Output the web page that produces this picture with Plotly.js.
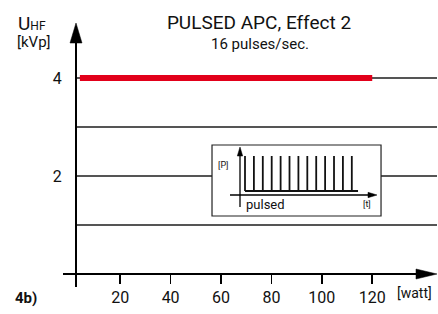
<!DOCTYPE html>
<html><head><meta charset="utf-8">
<script src="https://cdn.plot.ly/plotly-3.0.1.min.js"></script>
<style>html,body{margin:0;padding:0;background:#fff}#chart{width:438px;height:314px}</style>
</head><body><div id="chart"></div>
<script>
// ---- data ----
const xTickVals = [20, 40, 60, 80, 100, 120];
const xTickText = ['20', '40', '60', '80', '100', '120'];
const yGridVals = [1, 2, 3, 4];
const yTickText = ['', '2', '', '4'];
const powerWatt = [4, 120];
const voltageKVp = [4, 4];
const pulseTimes = [1, 2, 3, 4, 5, 6, 7, 8, 9, 10, 11, 12, 13];
const pulseHeight = 1;
const baselineEnd = 13.7;

// ---- layout geometry helpers (pixels -> paper) ----
const W = 438, H = 314;
const M = {l: 76, r: 1, t: 40, b: 40};
const PW = W - M.l - M.r, PH = H - M.t - M.b;
const px = v => (v - M.l) / PW;
const py = v => (H - M.b - v) / PH;
const FONT = 'Roboto, "Liberation Sans", Arial, sans-serif';

// pulse trace built from data
const pX = [], pY = [];
pulseTimes.forEach(t => { pX.push(t, t, null); pY.push(0, pulseHeight, null); });

const traces = [
  {x: powerWatt, y: voltageKVp, type: 'scatter', mode: 'lines',
   line: {color: '#e2001a', width: 6}, hoverinfo: 'skip', xaxis: 'x', yaxis: 'y'},
  {x: pX, y: pY, type: 'scatter', mode: 'lines', line: {color: '#111', width: 1.8},
   xaxis: 'x2', yaxis: 'y2', hoverinfo: 'skip'},
  {x: [pulseTimes[0], baselineEnd], y: [0, 0], type: 'scatter', mode: 'lines',
   line: {color: '#111', width: 1.8}, xaxis: 'x2', yaxis: 'y2', hoverinfo: 'skip'}
];

function line(x0, y0, x1, y1, w) {
  return {type: 'line', xref: 'paper', yref: 'paper', x0: px(x0), y0: py(y0), x1: px(x1), y1: py(y1),
          line: {color: '#000', width: w}, layer: 'above'};
}
function tri(pts) {
  const d = 'M' + pts.map(p => px(p[0]) + ',' + py(p[1])).join('L') + 'Z';
  return {type: 'path', xref: 'paper', yref: 'paper', path: d, fillcolor: '#000',
          line: {color: '#000', width: 0.5}, layer: 'above'};
}

const shapes = [
  // inset box (between gridlines and traces)
  {type: 'rect', xref: 'x', yref: 'y', x0: (212 - 69.8) / 2.52, x1: (381 - 69.8) / 2.52,
   y0: (274 - 216) / 49, y1: (274 - 145) / 49, fillcolor: '#fff',
   line: {color: '#222', width: 1.2}, layer: 'between'},
  // main axes
  line(76, 287, 76, 38, 2),
  tri([[76, 23], [70, 43], [82, 43]]),
  line(63, 274, 420, 274, 2),
  tri([[437, 274], [416, 269], [416, 279]]),
  // inset axes
  line(240, 207, 240, 154, 1.3),
  tri([[240, 147], [237.3, 156], [242.7, 156]]),
  line(230, 195, 370, 195, 1.3),
  tri([[377, 195], [368, 192.3], [368, 197.7]])
];

function ann(text, x, y, size, opts) {
  return Object.assign({text: text, xref: 'paper', yref: 'paper', x: px(x), y: py(y),
    xanchor: 'left', yanchor: 'middle', showarrow: false,
    font: {family: FONT, size: size, color: '#111'}}, opts || {});
}

const annotations = [
  ann('16 pulses/sec.', 260, 44, 15, {xanchor: 'center'}),
  ann('U<span style="font-size:12px">HF</span>', 16, 23, 19),
  ann('[kVp]', 15, 42, 15),
  ann('<b>4b)</b>', 13, 298, 15),
  ann('[watt]', 395, 293, 14),
  ann('[P]', 216, 165, 9),
  ann('pulsed', 244, 205, 13),
  ann('[t]', 361, 204, 9)
];

const layout = {
  width: W, height: H,
  margin: M,
  paper_bgcolor: '#fff', plot_bgcolor: 'rgba(0,0,0,0)',
  showlegend: false,
  font: {family: FONT, color: '#111'},
  title: {
    text: 'PULSED APC, Effect 2',
    font: {family: FONT, size: 19, color: '#111'},
    xref: 'paper', x: px(259), xanchor: 'center',
    yref: 'container', y: 1 - 22 / H, yanchor: 'middle'
  },
  xaxis: {
    range: [2.46, 145.7], tickmode: 'array', tickvals: xTickVals, ticktext: xTickText,
    ticks: 'outside', ticklen: 9, tickwidth: 1.5, tickcolor: '#000',
    showgrid: false, zeroline: false, showline: false,
    tickfont: {family: FONT, size: 16, color: '#111'}, fixedrange: true
  },
  yaxis: {
    range: [0, PH / 49], tickmode: 'array', tickvals: yGridVals, ticktext: yTickText,
    ticks: 'outside', ticklen: 10, tickcolor: 'rgba(0,0,0,0)',
    showgrid: true, gridcolor: '#555', gridwidth: 1.5,
    zeroline: false, showline: false,
    tickfont: {family: FONT, size: 16, color: '#111'}, fixedrange: true
  },
  xaxis2: {domain: [px(240), px(377)], range: [0.438, 15.83], visible: false, anchor: 'y2', fixedrange: true},
  yaxis2: {domain: [py(195), py(148)], range: [-0.114, 1.229], visible: false, anchor: 'x2', fixedrange: true},
  shapes: shapes,
  annotations: annotations
};

Plotly.newPlot('chart', traces, layout, {displayModeBar: false, staticPlot: true});
</script>
</body></html>
